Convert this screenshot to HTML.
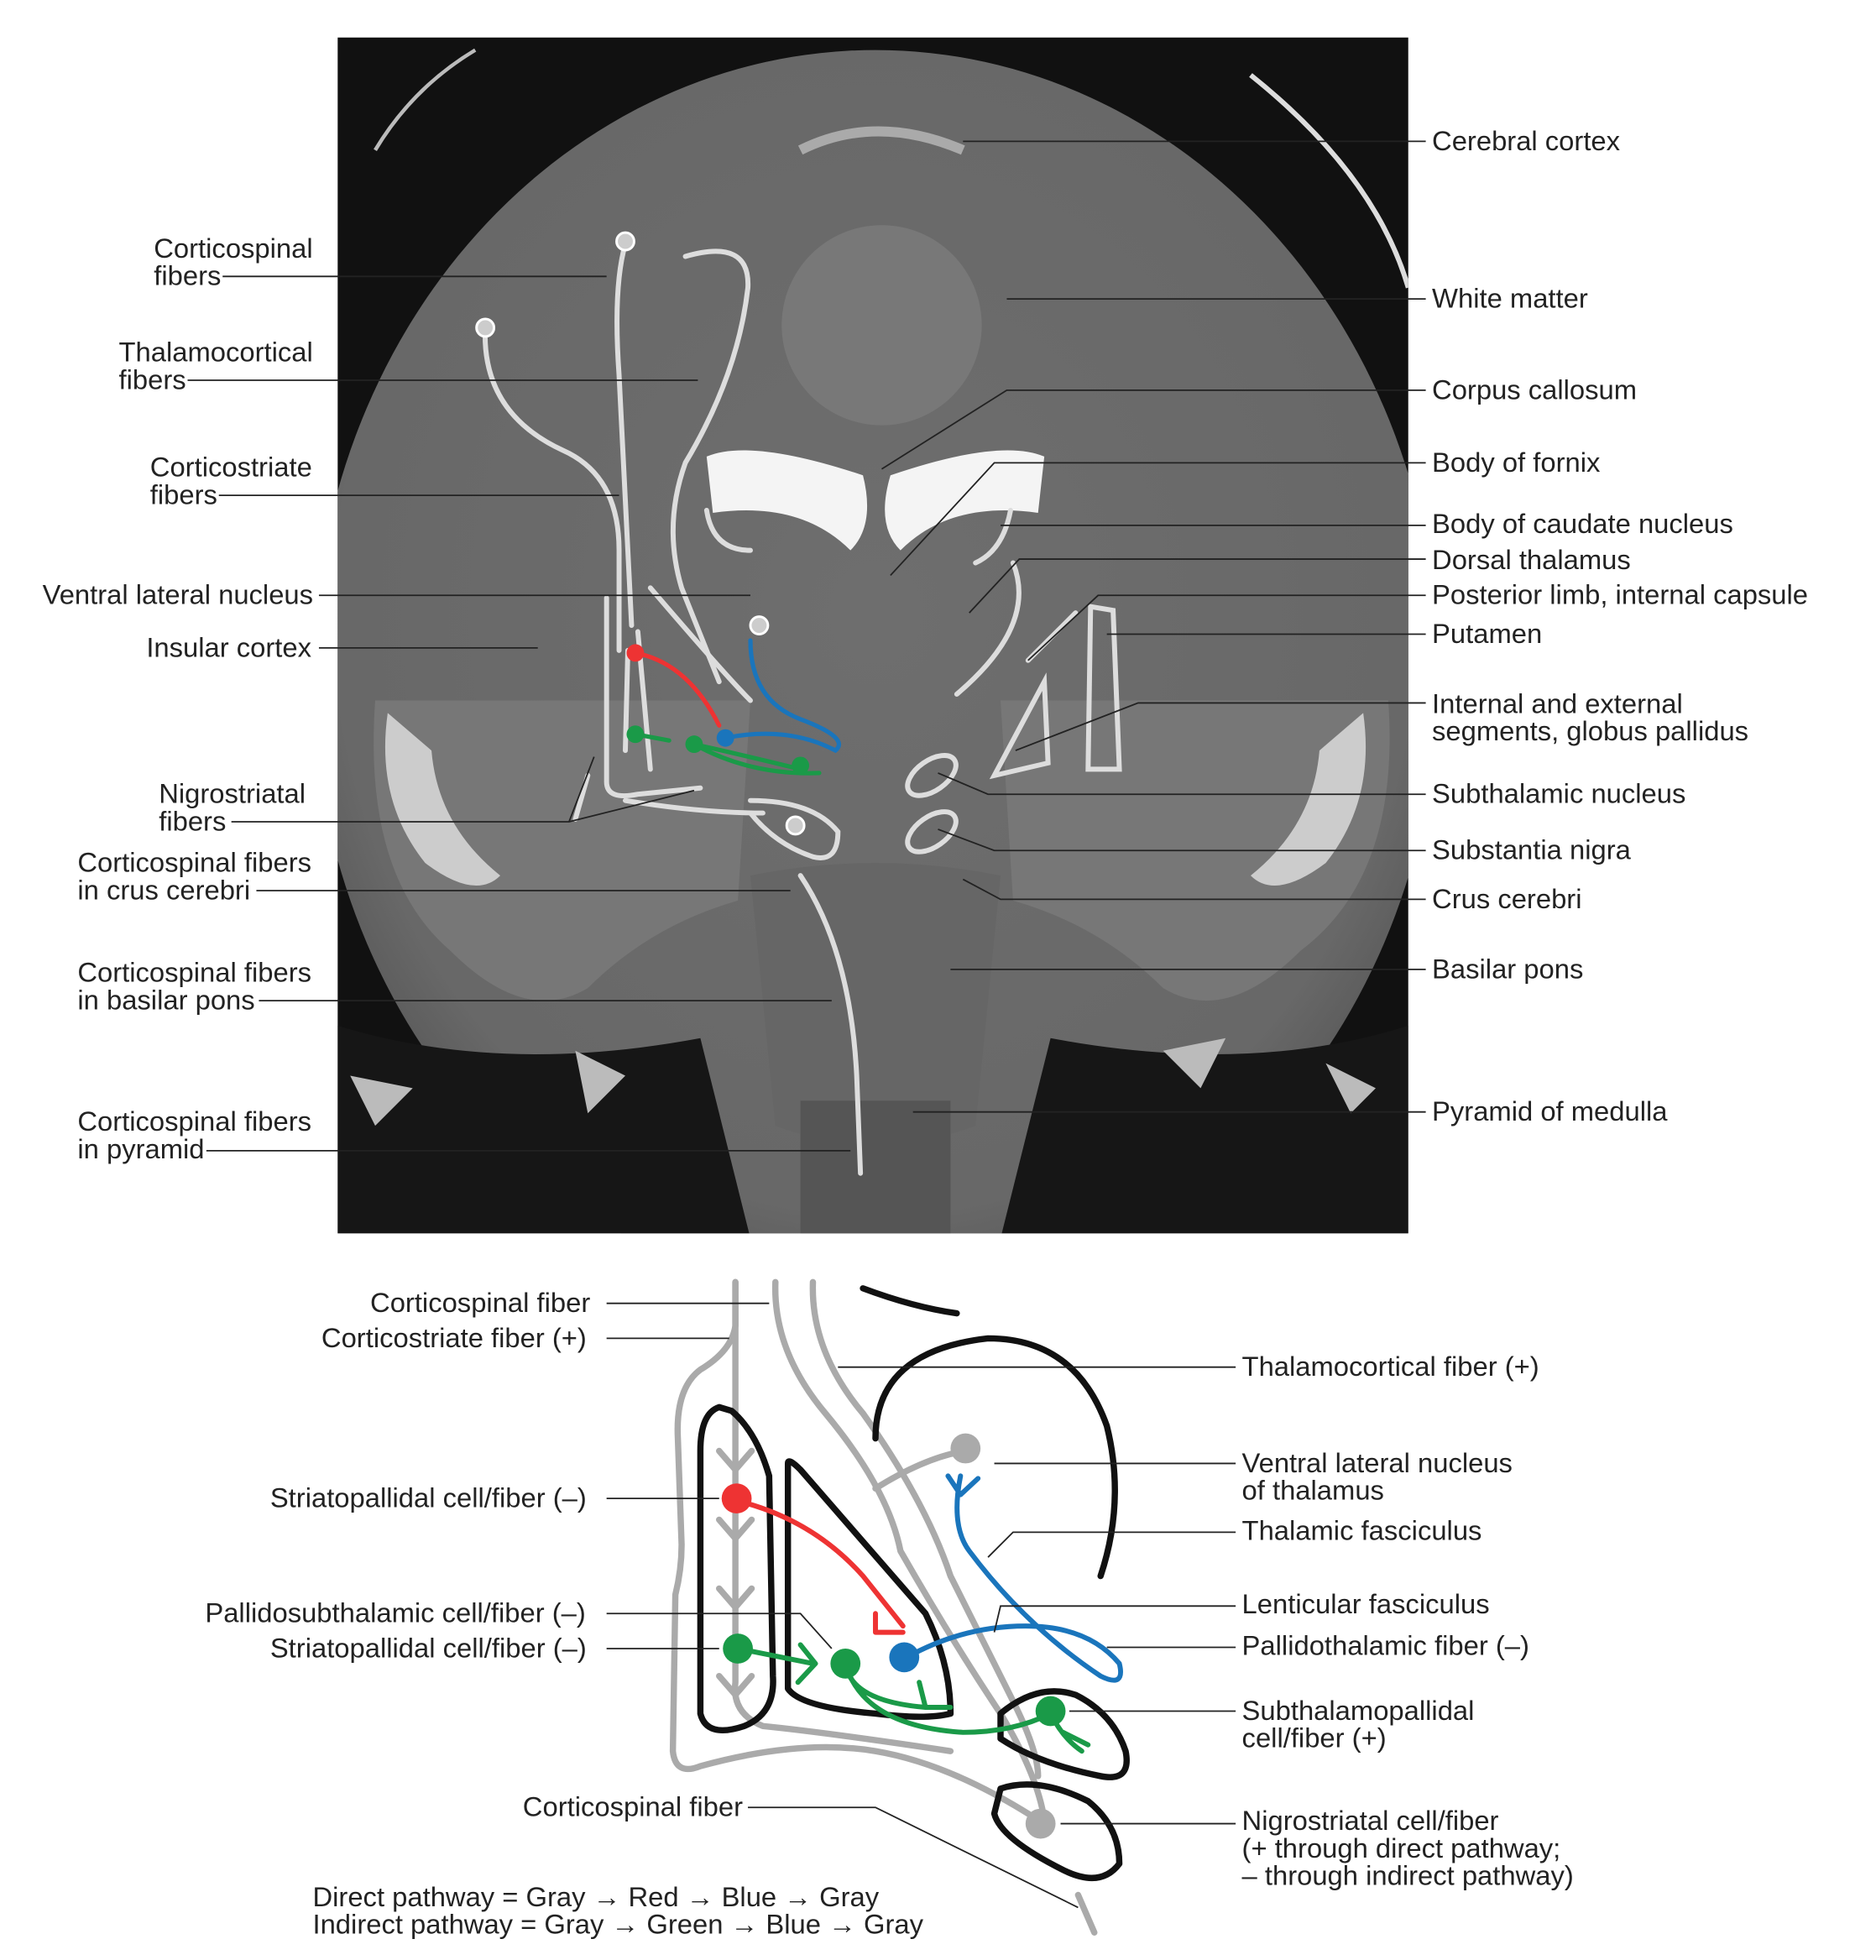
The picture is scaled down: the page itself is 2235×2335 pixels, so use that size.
<!DOCTYPE html>
<html><head><meta charset="utf-8"><style>
html,body{margin:0;padding:0;background:#fff;}
svg{display:block;}
text{font-family:"Liberation Sans",Arial,sans-serif;font-size:22px;fill:#222;}
</style></head><body>
<svg width="2235" height="2335" viewBox="0 0 1500 1567" preserveAspectRatio="none" xmlns="http://www.w3.org/2000/svg">
<defs>
<clipPath id="c"><rect x="270" y="30" width="856" height="956"/></clipPath>
<radialGradient id="g" cx="0.5" cy="0.45" r="0.6"><stop offset="0" stop-color="#6e6e6e"/><stop offset="0.8" stop-color="#686868"/><stop offset="1" stop-color="#505050"/></radialGradient>
</defs>
<rect x="270" y="30" width="856" height="956" fill="#111"/>
<g clip-path="url(#c)">
<ellipse cx="700" cy="540" rx="450" ry="500" fill="url(#g)"/>
<path d="M300 560 Q290 700 360 760 Q420 820 470 790 Q520 740 590 720 L600 560 Z" fill="#777"/>
<path d="M1110 560 Q1120 700 1040 760 Q980 820 930 790 Q880 740 810 720 L800 560 Z" fill="#777"/>
<path d="M600 700 Q700 680 800 700 L780 900 Q700 930 620 900 Z" fill="#666"/>
<rect x="640" y="880" width="120" height="110" fill="#555"/>
<path d="M270 820 Q400 860 560 830 L600 990 L270 990 Z" fill="#161616"/>
<path d="M1126 820 Q1000 860 840 830 L800 990 L1126 990 Z" fill="#161616"/>
<path d="M565 365 Q600 350 690 380 Q700 420 680 440 Q640 400 570 410 Z" fill="#f4f4f4"/>
<path d="M835 365 Q800 350 712 380 Q700 420 720 440 Q760 400 830 410 Z" fill="#f4f4f4"/>
<path d="M310 570 Q300 640 340 690 Q380 720 400 700 Q350 660 345 600 Z" fill="#ccc"/>
<path d="M1090 570 Q1100 640 1060 690 Q1020 720 1000 700 Q1050 660 1055 600 Z" fill="#ccc"/>
<path d="M1000 60 Q1100 140 1126 230" stroke="#ddd" stroke-width="4" fill="none"/>
<path d="M380 40 Q330 70 300 120" stroke="#bbb" stroke-width="3" fill="none"/>
<path d="M280 860 L330 870 L300 900 Z M460 840 L500 860 L470 890 Z M930 840 L980 830 L960 870 Z M1060 850 L1100 870 L1080 890 Z" fill="#bbb"/>
<ellipse cx="705" cy="260" rx="80" ry="80" fill="#787878"/>
<path d="M640 120 Q700 90 770 120" stroke="#aaa" stroke-width="8" fill="none"/>
</g>
<g fill="none" stroke="#ddd" stroke-width="4" stroke-linecap="round">
<path d="M500 195 Q490 230 495 300 L505 500"/>
<path d="M548 205 Q600 190 598 230 Q590 300 548 370 Q530 420 545 470 L575 545"/>
<path d="M388 262 Q385 330 450 360 Q495 380 495 440 L495 520"/>
<path d="M520 470 Q580 540 600 560"/>
<path d="M640 700 Q680 760 685 860 L688 938"/>
<path d="M565 408 Q570 440 600 440 M808 408 Q802 440 780 450"/>
<path d="M765 555 Q830 500 810 450"/>
<path d="M822 528 L860 490 M795 620 L835 545 L838 610 Z M872 485 L890 488 L895 615 L870 615 Z"/>
<path d="M485 478 L485 625 Q485 640 510 635 L560 630 M500 640 Q560 650 610 650 M470 620 L460 655"/>
<path d="M600 640 Q650 640 670 665 Q670 690 650 685 Q620 675 600 650"/>
<ellipse cx="745" cy="620" rx="22" ry="12" transform="rotate(-35 745 620)"/>
<ellipse cx="745" cy="665" rx="22" ry="12" transform="rotate(-35 745 665)"/>
<path d="M502 520 L500 600 M510 505 L520 615"/>
</g>
<g fill="#ccc" stroke="#fff" stroke-width="2"><circle cx="500" cy="193" r="7"/><circle cx="388" cy="262" r="7"/><circle cx="607" cy="500" r="7"/><circle cx="636" cy="660" r="7"/></g>
<g fill="none" stroke-width="3.5" stroke-linecap="round">
<path d="M508 522 Q550 530 575 580" stroke="#e33"/>
<path d="M600 512 Q600 560 640 575 Q680 590 668 600 Q630 580 580 590" stroke="#1a75bc"/>
<path d="M508 587 L535 592 M555 595 Q600 620 655 618 M640 615 Q600 605 555 595" stroke="#1a9a48"/>
</g>
<circle cx="508" cy="522" r="7" fill="#e33"/><circle cx="580" cy="590" r="7" fill="#1a75bc"/>
<circle cx="508" cy="587" r="7" fill="#1a9a48"/><circle cx="555" cy="595" r="7" fill="#1a9a48"/><circle cx="640" cy="612" r="7" fill="#1a9a48"/>
<g stroke="#222" stroke-width="1.2" fill="none">
<path d="M178 221 L485 221 M150 304 L558 304 M175 396 L495 396 M255 476 L600 476 M255 518 L430 518 M185 657 L455 657 L475 605 M455 657 L555 632 M205 712 L632 712 M207 800 L665 800 M165 920 L680 920"/>
<path d="M1140 113 L770 113 M1140 239 L805 239 M1140 312 L805 312 L705 375 M1140 370 L795 370 L712 460 M1140 420 L800 420 M1140 447 L815 447 L775 490 M1140 476 L878 476 L822 528 M1140 507 L885 507 M1140 562 L910 562 L812 600 M1140 635 L790 635 L750 618 M1140 680 L795 680 L750 663 M1140 719 L800 719 L770 703 M1140 775 L760 775 M1140 889 L730 889"/>
</g>
<text x="123" y="206">Corticospinal</text><text x="123" y="228">fibers</text>
<text x="95" y="289">Thalamocortical</text><text x="95" y="311">fibers</text>
<text x="120" y="381">Corticostriate</text><text x="120" y="403">fibers</text>
<text x="34" y="483">Ventral lateral nucleus</text>
<text x="117" y="525">Insular cortex</text>
<text x="127" y="642">Nigrostriatal</text><text x="127" y="664">fibers</text>
<text x="62" y="697">Corticospinal fibers</text><text x="62" y="719">in crus cerebri</text>
<text x="62" y="785">Corticospinal fibers</text><text x="62" y="807">in basilar pons</text>
<text x="62" y="904">Corticospinal fibers</text><text x="62" y="926">in pyramid</text>
<text x="1145" y="120">Cerebral cortex</text>
<text x="1145" y="246">White matter</text>
<text x="1145" y="319">Corpus callosum</text>
<text x="1145" y="377">Body of fornix</text>
<text x="1145" y="426">Body of caudate nucleus</text>
<text x="1145" y="455">Dorsal thalamus</text>
<text x="1145" y="483">Posterior limb, internal capsule</text>
<text x="1145" y="514">Putamen</text>
<text x="1145" y="570">Internal and external</text><text x="1145" y="592">segments, globus pallidus</text>
<text x="1145" y="642">Subthalamic nucleus</text>
<text x="1145" y="687">Substantia nigra</text>
<text x="1145" y="726">Crus cerebri</text>
<text x="1145" y="782">Basilar pons</text>
<text x="1145" y="896">Pyramid of medulla</text>
<g fill="none" stroke-linecap="round" stroke-linejoin="round">
<g stroke="#aaa" stroke-width="5">
<path d="M588 1025 L588 1060 Q585 1080 560 1095 Q540 1110 542 1150 L545 1235 Q545 1255 540 1275 L538 1400 Q540 1420 560 1412 Q640 1390 700 1400 Q760 1410 830 1455"/>
<path d="M588 1025 L588 1345 Q585 1370 610 1380 Q660 1385 760 1400"/>
<path d="M620 1025 Q618 1080 660 1130 Q710 1190 720 1240 Q760 1310 800 1370 Q830 1420 835 1455"/>
<path d="M650 1025 Q648 1080 690 1130 Q740 1200 760 1260 Q790 1320 810 1360 Q830 1400 830 1420"/>
<path d="M862 1515 L875 1545"/>
<path d="M700 1190 Q740 1165 772 1160"/>
<path d="M575 1160 L588 1175 L601 1160 M575 1215 L588 1230 L601 1215 M575 1270 L588 1285 L601 1270 M575 1340 L588 1355 L601 1340"/>
</g>
<g stroke="#111" stroke-width="5">
<path d="M690 1030 Q730 1045 765 1050"/>
<path d="M880 1260 Q900 1200 885 1140 Q860 1070 790 1070 Q700 1080 700 1150"/>
<path d="M575 1125 Q560 1130 560 1160 L560 1370 Q565 1390 595 1380 Q620 1370 618 1340 L615 1180 Q605 1145 585 1128 Z"/>
<path d="M630 1170 Q630 1165 640 1175 L740 1290 Q760 1330 760 1370 Q740 1375 700 1370 Q640 1365 630 1350 Z"/>
<path d="M800 1370 Q830 1345 860 1355 Q890 1370 900 1400 Q905 1425 880 1420 Q830 1410 800 1390 Z"/>
<path d="M800 1430 Q830 1420 870 1440 Q895 1460 895 1490 Q880 1510 850 1495 Q800 1470 795 1450 Z"/>
</g>
<path d="M590 1200 Q650 1215 690 1260 L722 1300 M700 1290 L700 1305 L722 1305" stroke="#e33" stroke-width="4"/>
<path d="M768 1180 Q760 1220 775 1240 Q820 1300 880 1340 Q900 1350 895 1330 Q870 1300 820 1300 Q770 1300 725 1325 M758 1180 L768 1195 L782 1182" stroke="#1a75bc" stroke-width="4"/>
<path d="M590 1318 L650 1330 M640 1315 L652 1330 L638 1345 M676 1330 Q690 1380 770 1385 Q810 1385 840 1370 M676 1330 Q680 1360 740 1365 M735 1345 L740 1365 L760 1365 M840 1370 Q850 1390 865 1400 M850 1385 L870 1395" stroke="#1a9a48" stroke-width="4"/>
</g>
<circle cx="589" cy="1198" r="12" fill="#e33"/>
<circle cx="723" cy="1325" r="12" fill="#1a75bc"/>
<circle cx="590" cy="1318" r="12" fill="#1a9a48"/><circle cx="676" cy="1330" r="12" fill="#1a9a48"/><circle cx="840" cy="1368" r="12" fill="#1a9a48"/>
<circle cx="772" cy="1158" r="12" fill="#aaa"/><circle cx="832" cy="1458" r="12" fill="#aaa"/>
<g stroke="#222" stroke-width="1.2" fill="none">
<path d="M485 1042 L615 1042 M485 1070 L583 1070 M988 1093 L670 1093 M988 1170 L795 1170 M988 1225 L810 1225 L790 1245 M988 1284 L800 1284 L795 1305 M988 1317 L885 1317 M988 1368 L855 1368 M988 1458 L848 1458 M485 1198 L575 1198 M485 1290 L640 1290 L665 1318 M485 1318 L575 1318 M598 1445 L700 1445 L862 1525"/>
</g>
<text x="296" y="1049">Corticospinal fiber</text>
<text x="257" y="1077">Corticostriate fiber (+)</text>
<text x="993" y="1100">Thalamocortical fiber (+)</text>
<text x="993" y="1177">Ventral lateral nucleus</text><text x="993" y="1199">of thalamus</text>
<text x="993" y="1231">Thalamic fasciculus</text>
<text x="993" y="1290">Lenticular fasciculus</text>
<text x="993" y="1323">Pallidothalamic fiber (–)</text>
<text x="993" y="1375">Subthalamopallidal</text><text x="993" y="1397">cell/fiber (+)</text>
<text x="993" y="1463">Nigrostriatal cell/fiber</text><text x="993" y="1485">(+ through direct pathway;</text><text x="993" y="1507">– through indirect pathway)</text>
<text x="216" y="1205">Striatopallidal cell/fiber (–)</text>
<text x="164" y="1297">Pallidosubthalamic cell/fiber (–)</text>
<text x="216" y="1325">Striatopallidal cell/fiber (–)</text>
<text x="418" y="1452">Corticospinal fiber</text>
<text x="250" y="1524">Direct pathway = Gray → Red → Blue → Gray</text>
<text x="250" y="1546">Indirect pathway = Gray → Green → Blue → Gray</text>
</svg>
</body></html>
